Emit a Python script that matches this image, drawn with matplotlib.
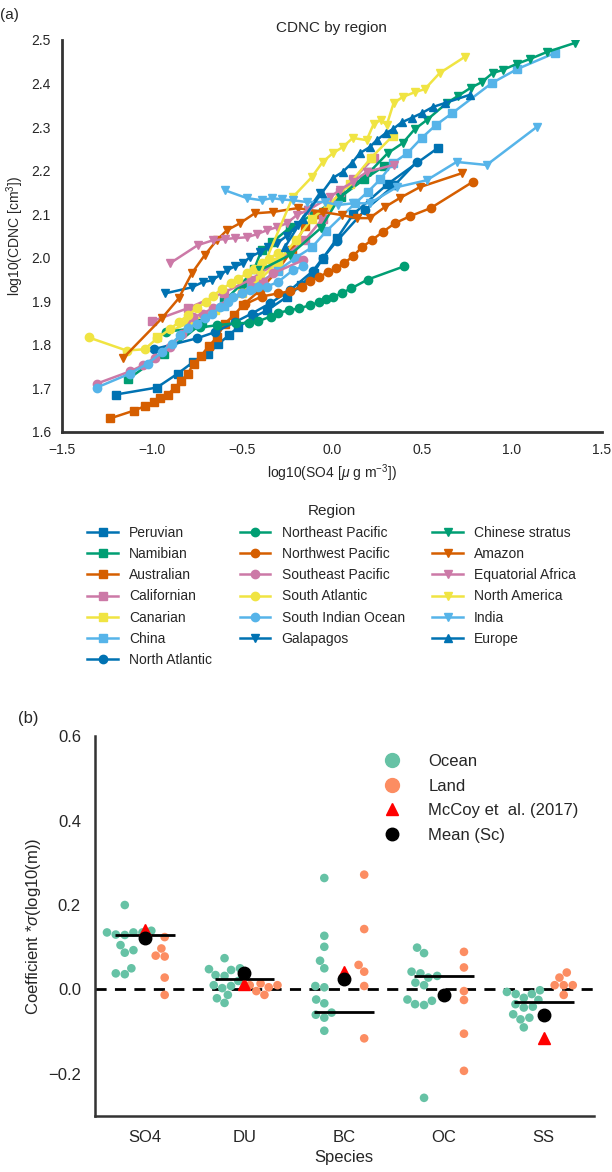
import matplotlib
matplotlib.use("Agg")
from matplotlib import pyplot as plt
from matplotlib.lines import Line2D
import numpy as np
import pandas as pd
import seaborn as sns

plt.rcParams['font.family'] = ['Liberation Sans', 'DejaVu Sans']
plt.rcParams['mathtext.fontset'] = 'custom'
plt.rcParams['mathtext.rm'] = 'Liberation Sans'
plt.rcParams['mathtext.it'] = 'Liberation Sans:italic'

# ---- panel (a): binned CDNC vs SO4 per region ----
peruvian_x = [-1.2, -0.972, -0.856, -0.772, -0.689, -0.633, -0.572, -0.522, -0.44, -0.36, -0.25, -0.17, -0.1, -0.05, 0.03, 0.12, 0.31, 0.59]
peruvian_y = [1.686, 1.702, 1.734, 1.76, 1.778, 1.801, 1.822, 1.84, 1.863, 1.879, 1.91, 1.937, 1.966, 1.998, 2.045, 2.1, 2.169, 2.252]
namibian_x = [-1.133, -0.933, -0.72, -0.6, -0.5, -0.43, -0.39, -0.33, -0.23, -0.1, 0.05, 0.18, 0.29]
namibian_y = [1.721, 1.78, 1.85, 1.9, 1.94, 1.975, 2.017, 2.036, 2.07, 2.1, 2.14, 2.18, 2.21]
australian_x = [-1.233, -1.1, -1.039, -0.989, -0.956, -0.911, -0.872, -0.839, -0.8, -0.767, -0.728, -0.683, -0.639, -0.594, -0.544, -0.494, -0.4, -0.3, -0.222, -0.15, -0.08]
australian_y = [1.631, 1.649, 1.659, 1.668, 1.679, 1.686, 1.702, 1.716, 1.734, 1.757, 1.774, 1.797, 1.817, 1.849, 1.868, 1.891, 1.925, 1.971, 2.017, 2.072, 2.1]
californian_x = [-1.0, -0.8, -0.6, -0.45, -0.3, -0.15, -0.05, 0.044, 0.12, 0.233]
californian_y = [1.854, 1.884, 1.92, 1.95, 1.99, 2.04, 2.09, 2.151, 2.18, 2.229]
canarian_x = [-0.972, -0.8, -0.65, -0.5, -0.4, -0.3, -0.2, -0.11, -0.02, 0.1, 0.22, 0.34]
canarian_y = [1.817, 1.85, 1.88, 1.92, 1.95, 1.99, 2.04, 2.09, 2.12, 2.17, 2.23, 2.28]
china_x = [-0.6, -0.45, -0.3, -0.2, -0.11, -0.03, 0.13, 0.2, 0.27, 0.34, 0.42, 0.5, 0.58, 0.67, 0.89, 1.03, 1.24]
china_y = [1.89, 1.93, 1.97, 2.0, 2.024, 2.061, 2.125, 2.151, 2.18, 2.217, 2.24, 2.275, 2.305, 2.332, 2.401, 2.433, 2.47]
north_atlantic_x = [-0.989, -0.75, -0.65, -0.539, -0.444, -0.344, -0.233, -0.106, -0.05, 0.028, 0.183, 0.35, 0.472]
north_atlantic_y = [1.79, 1.815, 1.829, 1.852, 1.872, 1.895, 1.925, 1.969, 1.999, 2.038, 2.109, 2.167, 2.22]
ne_pacific_x = [-0.92, -0.73, -0.64, -0.53, -0.46, -0.41, -0.34, -0.3, -0.24, -0.18, -0.12, -0.07, -0.033, 0.006, 0.06, 0.11, 0.2, 0.4]
ne_pacific_y = [1.83, 1.84, 1.845, 1.85, 1.85, 1.854, 1.865, 1.873, 1.879, 1.884, 1.891, 1.898, 1.905, 1.909, 1.92, 1.93, 1.95, 1.98]
nw_pacific_x = [-0.483, -0.39, -0.3, -0.233, -0.167, -0.122, -0.072, -0.022, 0.022, 0.067, 0.117, 0.167, 0.222, 0.283, 0.35, 0.433, 0.55, 0.783]
nw_pacific_y = [1.893, 1.911, 1.918, 1.923, 1.934, 1.946, 1.955, 1.967, 1.976, 1.987, 2.003, 2.024, 2.04, 2.059, 2.079, 2.095, 2.114, 2.174]
se_pacific_x = [-1.306, -1.122, -1.05, -0.983, -0.9, -0.83, -0.772, -0.717, -0.661, -0.578, -0.5, -0.444, -0.383, -0.328, -0.161]
se_pacific_y = [1.711, 1.739, 1.753, 1.771, 1.794, 1.826, 1.863, 1.872, 1.884, 1.902, 1.92, 1.932, 1.944, 1.964, 1.994]
s_atlantic_x = [-1.35, -1.14, -1.04, -0.97, -0.9, -0.85, -0.8, -0.75, -0.7, -0.66, -0.61, -0.56, -0.52, -0.47, -0.43, -0.39, -0.35, -0.3]
s_atlantic_y = [1.817, 1.787, 1.79, 1.815, 1.836, 1.852, 1.868, 1.884, 1.898, 1.912, 1.929, 1.941, 1.952, 1.964, 1.975, 1.987, 1.998, 2.01]
s_indian_x = [-1.306, -1.122, -1.022, -0.944, -0.889, -0.844, -0.8, -0.75, -0.706, -0.667, -0.622, -0.578, -0.55, -0.5, -0.456, -0.411, -0.361, -0.3, -0.217, -0.161]
s_indian_y = [1.702, 1.734, 1.757, 1.783, 1.803, 1.822, 1.838, 1.849, 1.861, 1.872, 1.886, 1.898, 1.909, 1.918, 1.925, 1.932, 1.934, 1.944, 1.971, 1.98]
galapagos_x = [-0.928, -0.778, -0.717, -0.667, -0.622, -0.583, -0.539, -0.494, -0.456, -0.4, -0.356, -0.306, -0.25, -0.19, -0.13, -0.067]
galapagos_y = [1.918, 1.932, 1.944, 1.948, 1.96, 1.971, 1.98, 1.987, 2.001, 2.013, 2.024, 2.033, 2.05, 2.075, 2.11, 2.148]
chinese_stratus_x = [-0.4, -0.233, -0.061, 0.044, 0.211, 0.311, 0.394, 0.461, 0.528, 0.639, 0.7, 0.772, 0.833, 0.894, 0.95, 1.028, 1.1, 1.194, 1.35]
chinese_stratus_y = [1.971, 2.006, 2.068, 2.139, 2.197, 2.24, 2.263, 2.295, 2.316, 2.355, 2.371, 2.39, 2.403, 2.424, 2.431, 2.445, 2.456, 2.472, 2.493]
amazon_x = [-1.161, -0.944, -0.85, -0.778, -0.706, -0.639, -0.583, -0.511, -0.428, -0.328, -0.189, -0.05, 0.056, 0.139, 0.211, 0.294, 0.378, 0.489, 0.722]
amazon_y = [1.769, 1.861, 1.907, 1.964, 2.006, 2.04, 2.063, 2.079, 2.102, 2.105, 2.114, 2.105, 2.098, 2.091, 2.091, 2.116, 2.137, 2.162, 2.194]
eq_africa_x = [-0.9, -0.744, -0.661, -0.594, -0.539, -0.472, -0.417, -0.361, -0.306, -0.25, -0.194, -0.133, -0.011, 0.044, 0.117, 0.194, 0.344]
eq_africa_y = [1.987, 2.029, 2.04, 2.043, 2.045, 2.047, 2.054, 2.063, 2.07, 2.079, 2.098, 2.109, 2.139, 2.155, 2.174, 2.197, 2.213]
north_america_x = [-0.4, -0.217, -0.111, -0.05, 0.006, 0.061, 0.117, 0.194, 0.233, 0.272, 0.306, 0.344, 0.394, 0.461, 0.517, 0.6, 0.739]
north_america_y = [1.96, 2.139, 2.185, 2.22, 2.24, 2.254, 2.275, 2.27, 2.307, 2.316, 2.305, 2.355, 2.369, 2.38, 2.387, 2.424, 2.461]
india_x = [-0.594, -0.472, -0.389, -0.333, -0.278, -0.217, -0.139, -0.039, 0.033, 0.117, 0.211, 0.361, 0.528, 0.694, 0.861, 1.139]
india_y = [2.155, 2.137, 2.132, 2.137, 2.134, 2.132, 2.128, 2.128, 2.121, 2.125, 2.125, 2.162, 2.178, 2.22, 2.213, 2.3]
europe_x = [-0.261, -0.16, -0.056, 0.006, 0.061, 0.111, 0.156, 0.211, 0.25, 0.3, 0.339, 0.389, 0.444, 0.5, 0.561, 0.628, 0.767]
europe_y = [2.024, 2.09, 2.148, 2.183, 2.197, 2.217, 2.24, 2.254, 2.27, 2.286, 2.295, 2.311, 2.321, 2.332, 2.346, 2.355, 2.374]

regions = ['Peruvian', 'Namibian', 'Australian', 'Californian', 'Canarian', 'China',
           'North Atlantic', 'Northeast Pacific', 'Northwest Pacific', 'Southeast Pacific',
           'South Atlantic', 'South Indian Ocean', 'Galapagos', 'Chinese stratus', 'Amazon',
           'Equatorial Africa', 'North America', 'India', 'Europe']
region_x = [peruvian_x, namibian_x, australian_x, californian_x, canarian_x, china_x,
            north_atlantic_x, ne_pacific_x, nw_pacific_x, se_pacific_x, s_atlantic_x, s_indian_x,
            galapagos_x, chinese_stratus_x, amazon_x, eq_africa_x, north_america_x, india_x, europe_x]
region_y = [peruvian_y, namibian_y, australian_y, californian_y, canarian_y, china_y,
            north_atlantic_y, ne_pacific_y, nw_pacific_y, se_pacific_y, s_atlantic_y, s_indian_y,
            galapagos_y, chinese_stratus_y, amazon_y, eq_africa_y, north_america_y, india_y, europe_y]

# ---- panel (b): regression coefficients ----
species = ['SO4', 'DU', 'BC', 'OC', 'SS']
ocean_so4 = [0.200, 0.135, 0.129, 0.135, 0.135, 0.139, 0.130, 0.105, 0.093, 0.087, 0.050, 0.036, 0.038]
ocean_du = [0.074, 0.050, 0.048, 0.046, 0.034, 0.032, 0.020, 0.008, 0.010, -0.013, -0.021, -0.032, 0.003]
ocean_bc = [0.264, 0.127, 0.101, 0.068, 0.050, 0.008, 0.005, -0.024, -0.033, -0.055, -0.067, -0.060, -0.098]
ocean_oc = [0.099, 0.086, 0.042, 0.038, 0.032, 0.010, 0.016, 0.028, -0.024, -0.027, -0.037, -0.035, -0.257]
ocean_ss = [-0.002, -0.011, -0.011, -0.006, -0.025, -0.035, -0.041, -0.043, -0.059, -0.071, -0.067, -0.090, -0.020]
land_so4 = [0.124, 0.097, 0.080, 0.078, 0.028, -0.013]
land_du = [0.014, 0.010, 0.010, -0.004, -0.013, 0.005]
land_bc = [0.272, 0.143, 0.058, 0.042, 0.008, -0.116]
land_oc = [0.089, 0.052, -0.004, -0.025, -0.105, -0.193]
land_ss = [0.040, 0.028, 0.010, 0.010, 0.010, -0.013]
mean_all = [0.129, 0.024, -0.053, 0.032, -0.029]
mean_sc = [0.123, 0.040, 0.025, -0.014, -0.061]
mccoy = [0.141, 0.012, 0.042, np.nan, -0.116]

cb = ["#0072B2", "#009E73", "#D55E00", "#CC79A7", "#F0E442", "#56B4E9"]
markers = ['s'] * 6 + ['o'] * 6 + ['v'] * 6 + ['^']
spine_col = '#333333'
txt_col = '#262626'

fig = plt.figure(figsize=(6.12, 11.72), dpi=100)

ax1 = fig.add_axes([0.101, 0.6314, 0.882, 0.3345])
for i, name in enumerate(regions):
    ax1.plot(region_x[i], region_y[i], marker=markers[i], color=cb[i % 6], lw=1.8,
             ms=6, label=name)
ax1.set_xlim(-1.5, 1.5)
ax1.set_ylim(1.6, 2.5)
ax1.set_xticks(np.arange(-1.5, 1.51, 0.5))
ax1.set_yticks(np.arange(1.6, 2.51, 0.1))
ax1.set_xticklabels(['\u22121.5', '\u22121.0', '\u22120.5', '0.0', '0.5', '1.0', '1.5'])
ax1.set_yticklabels(['%.1f' % v for v in np.arange(1.6, 2.51, 0.1)])
ax1.tick_params(length=0, labelsize=10, colors=txt_col, pad=8)
for s in ['top', 'right']:
    ax1.spines[s].set_visible(False)
for s in ['left', 'bottom']:
    ax1.spines[s].set_color(spine_col)
    ax1.spines[s].set_linewidth(2)
ax1.set_title('CDNC by region', fontsize=11, color=txt_col, pad=6)
ax1.set_xlabel(r'log10(SO4 [$\mu$ g m$^{-3}$])', fontsize=10, color=txt_col)
ax1.set_ylabel(r'log10(CDNC [cm$^{3}$])', fontsize=10, color=txt_col)
leg = ax1.legend(ncol=3, loc='upper center', bbox_to_anchor=(0.5, -0.153), frameon=False,
                 title='Region', fontsize=10, title_fontsize=11, handlelength=2.2,
                 columnspacing=2.0, labelspacing=0.52)
for t in leg.get_texts():
    t.set_color(txt_col)
leg.get_title().set_color(txt_col)
fig.text(0.0, 0.9935, '(a)', fontsize=11, color=txt_col, va='top')

# panel (b)
ocean_vals = [ocean_so4, ocean_du, ocean_bc, ocean_oc, ocean_ss]
land_vals = [land_so4, land_du, land_bc, land_oc, land_ss]
rows = []
for sp, ov, lv in zip(species, ocean_vals, land_vals):
    rows += [(sp, 'Ocean', v) for v in ov]
    rows += [(sp, 'Land', v) for v in lv]
df = pd.DataFrame(rows, columns=['Species', 'Type', 'Value'])

ax2 = fig.add_axes([0.155, 0.0478, 0.815, 0.324])
sns.swarmplot(data=df, x='Species', y='Value', hue='Type', order=species,
              hue_order=['Ocean', 'Land'], palette=['#66c2a5', '#fc8d62'],
              dodge=True, size=6.2, legend=False, ax=ax2, zorder=2)
xs = np.arange(len(species))
ax2.axhline(0, color='black', ls='--', lw=2, dashes=(4, 3), zorder=1)
ax2.hlines(mean_all, xs - 0.3, xs + 0.3, color='black', lw=2, zorder=3)
ax2.plot(xs, mccoy, ls='none', marker='^', color='red', ms=8, zorder=4)
ax2.plot(xs, mean_sc, ls='none', marker='o', color='black', ms=9, zorder=5)
ax2.set_xlim(-0.5, 4.5)
ax2.set_ylim(-0.3, 0.6)
ax2.set_yticks([-0.2, 0.0, 0.2, 0.4, 0.6])
ax2.set_yticklabels(['\u22120.2', '0.0', '0.2', '0.4', '0.6'])
ax2.tick_params(length=0, labelsize=12, colors=txt_col, pad=10)
for s in ['top', 'right']:
    ax2.spines[s].set_visible(False)
for s in ['left', 'bottom']:
    ax2.spines[s].set_color(spine_col)
    ax2.spines[s].set_linewidth(1.8)
ax2.set_xlabel('Species', fontsize=12, color=txt_col)
ax2.set_ylabel(r'Coefficient *$\sigma$(log10(m))', fontsize=12, color=txt_col)
handles = [Line2D([], [], ls='none', marker='o', color='#66c2a5', ms=10),
           Line2D([], [], ls='none', marker='o', color='#fc8d62', ms=10),
           Line2D([], [], ls='none', marker='^', color='red', ms=9),
           Line2D([], [], ls='none', marker='o', color='black', ms=9)]
leg2 = ax2.legend(handles, ['Ocean', 'Land', 'McCoy et  al. (2017)', 'Mean (Sc)'],
                  loc='upper right', bbox_to_anchor=(1.0, 0.993), frameon=False,
                  fontsize=12, handletextpad=1.2, labelspacing=0.58)
for t in leg2.get_texts():
    t.set_color(txt_col)
fig.text(0.03, 0.387, '(b)', fontsize=12, color=txt_col, va='center')

fig.savefig('out.png', dpi=100)
